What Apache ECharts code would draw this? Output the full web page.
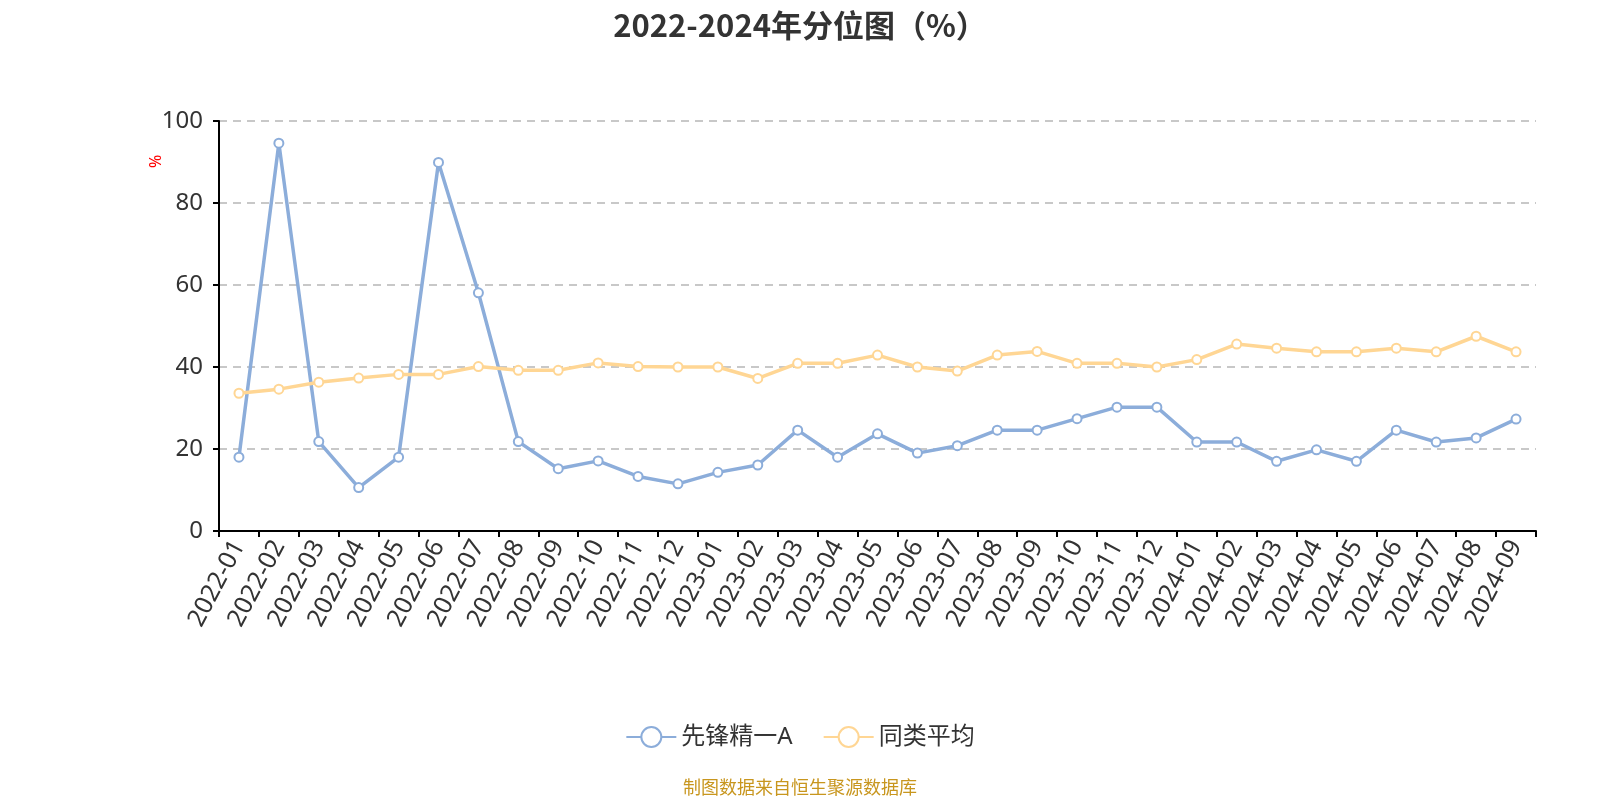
<!DOCTYPE html>
<html><head><meta charset="utf-8">
<script src="https://cdn.jsdelivr.net/npm/echarts@6/dist/echarts.min.js"></script>
<style>html,body{margin:0;padding:0;background:#fff}#c{width:1600px;height:800px}</style>
</head><body><div id="c"></div>
<script>
const categories = ['2022-01','2022-02','2022-03','2022-04','2022-05','2022-06','2022-07','2022-08','2022-09','2022-10','2022-11','2022-12','2023-01','2023-02','2023-03','2023-04','2023-05','2023-06','2023-07','2023-08','2023-09','2023-10','2023-11','2023-12','2024-01','2024-02','2024-03','2024-04','2024-05','2024-06','2024-07','2024-08','2024-09'];
const fundValues = [18.0,94.6,21.8,10.6,18.0,89.9,58.1,21.8,15.2,17.1,13.3,11.5,14.3,16.1,24.6,18.0,23.7,19.0,20.8,24.6,24.6,27.4,30.2,30.2,21.7,21.7,17.0,19.8,17.0,24.6,21.7,22.7,27.3];
const avgValues = [33.6,34.6,36.3,37.3,38.2,38.2,40.1,39.2,39.2,41.0,40.1,40.0,40.0,37.2,40.9,40.9,42.9,40.0,39.0,42.9,43.8,40.9,40.9,40.0,41.8,45.6,44.6,43.7,43.7,44.6,43.7,47.5,43.7];
const seriesNames = ['先锋精一A','同类平均'];
const yTicks = {min:0, max:100, interval:20};

const font = '"Noto Sans","Noto Sans CJK SC",sans-serif';
const chart = echarts.init(document.getElementById('c'));
chart.setOption({
  animation:false,
  textStyle:{fontFamily:font},
  title:{text:'2022-2024年分位图（%）',left:'center',top:5,textStyle:{fontSize:31,fontWeight:'bold',color:'#333',fontFamily:'"Noto Sans CJK SC",sans-serif'}},
  grid:{left:219,right:64,top:121,bottom:269,containLabel:false},
  legend:{data:seriesNames,bottom:46,left:'center',itemWidth:50,itemHeight:25,itemGap:30,textStyle:{fontSize:24,color:'#333',fontFamily:font}},
  graphic:[
    {type:'text',left:'center',top:778,style:{text:'制图数据来自恒生聚源数据库',fill:'#c8961e',fontSize:18,fontFamily:'"Noto Sans CJK SC",sans-serif'}},
    {type:'text',x:148,y:168,rotation:Math.PI/2,style:{text:'%',fill:'#ff0000',fontSize:16,fontFamily:font}}
  ],
  xAxis:{type:'category',data:categories,boundaryGap:true,
    axisLine:{lineStyle:{color:'#000',width:2}},axisTick:{show:true,alignWithLabel:false,length:6,lineStyle:{color:'#000',width:2}},
    axisLabel:{rotate:62,interval:0,fontSize:25,color:'#333',margin:11,fontFamily:font}},
  yAxis:{type:'value',min:yTicks.min,max:yTicks.max,interval:yTicks.interval,
    axisLine:{show:true,lineStyle:{color:'#000',width:2}},axisTick:{show:true,length:6,lineStyle:{color:'#000',width:2}},
    axisLabel:{fontSize:24,color:'#333',margin:16,fontFamily:font},
    splitLine:{lineStyle:{type:[8,6],color:'#c8c8c8',width:2}}},
  series:[
    {name:seriesNames[0],type:'line',data:fundValues,symbol:'emptyCircle',symbolSize:9,
     itemStyle:{color:'#8cadda',borderWidth:2},lineStyle:{width:3.5,color:'#8cadda'}},
    {name:seriesNames[1],type:'line',data:avgValues,symbol:'emptyCircle',symbolSize:9,
     itemStyle:{color:'#ffd694',borderWidth:2},lineStyle:{width:3.5,color:'#ffd694'}}
  ]
});
</script></body></html>
